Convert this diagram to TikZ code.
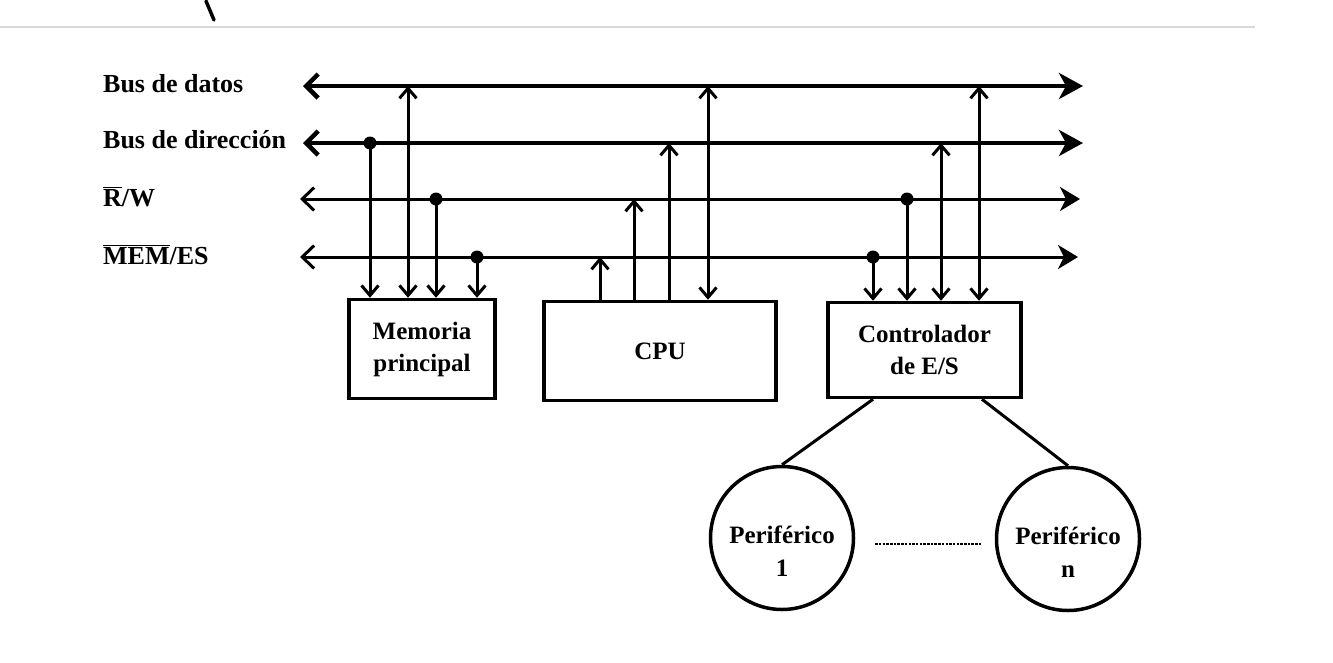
\documentclass[tikz,border=0pt]{standalone}
\usepackage{fontspec}
\setmainfont{Liberation Serif}
\usetikzlibrary{arrows.meta}
\begin{document}
\begin{tikzpicture}[x=1pt,y=-1pt,
  lbl/.style={font=\bfseries\fontsize{26}{30}\selectfont, anchor=base west, inner sep=0pt},
  box/.style={draw, line width=3.5pt, align=center, inner sep=0pt,
              font=\bfseries\fontsize{25}{32}\selectfont},
  per/.style={draw, circle, line width=3.5pt, minimum size=143pt, inner sep=0pt},
  ptxt/.style={align=center, inner sep=0pt, font=\bfseries\fontsize{25}{33}\selectfont},
  busA/.style={line width=4.5pt, {Straight Barb[length=12pt,width=24pt]}-{Stealth[length=24pt,width=26pt,inset=7pt]}},
  busB/.style={line width=3pt, {Straight Barb[length=12pt,width=23pt]}-{Stealth[length=20pt,width=24pt,inset=6pt]}},
  con/.style={line width=3pt},
  dn/.style={con, -{Straight Barb[length=10pt,width=17pt]}},
  upa/.style={con, -{Straight Barb[length=10pt,width=17pt]}},
  bid/.style={con, {Straight Barb[length=10pt,width=17pt]}-{Straight Barb[length=10pt,width=17pt]}},
  jdot/.style={circle, fill, inner sep=0pt, minimum size=13pt}
]
\useasboundingbox (0,0) rectangle (1333,662);

% scan artefacts
\draw[gray!30, line width=1.5pt] (0,27) -- (1255,27);
\draw[line width=3.5pt, line cap=round] (206,1) -- (214,20);

% bus labels
\node[lbl] (lD) at (103,92) {Bus de datos};
\node[lbl] (lA) at (103,148) {Bus de dirección};
\node[lbl] (lR) at (103,206) {$\overline{\mbox{R}}$/W};
\node[lbl] (lM) at (103,264) {$\overline{\mbox{MEM}}$/ES};

% bus endpoints
\coordinate (dL) at (303,86);  \coordinate (dR) at (1083,86);
\coordinate (aL) at (303,143); \coordinate (aR) at (1083,143);
\coordinate (rL) at (300,199); \coordinate (rR) at (1080,199);
\coordinate (mL) at (300,257); \coordinate (mR) at (1078,257);

\draw[busA] (dL) -- (dR);
\draw[busA] (aL) -- (aR);
\draw[busB] (rL) -- (rR);
\draw[busB] (mL) -- (mR);

% boxes
\node[box, minimum width=146pt, minimum height=99pt] (mem) at (422,349) {Memoria\\principal};
\node[box, minimum width=232pt, minimum height=99pt] (cpu) at (660,351) {CPU};
\node[box, minimum width=193pt, minimum height=95pt] (ctl) at (924.5,350) {Controlador\\de E/S};

% memory connections
\coordinate (m1) at (370,143);
\coordinate (m2) at (408,86);
\coordinate (m3) at (436,199);
\coordinate (m4) at (477,257);
\draw[dn] (m1) -- (m1 |- mem.north);
\draw[bid] (m2) -- (m2 |- mem.north);
\draw[dn] (m3) -- (m3 |- mem.north);
\draw[dn] (m4) -- (m4 |- mem.north);
\node[jdot] at (m1) {};
\node[jdot] at (m3) {};
\node[jdot] at (m4) {};

% CPU connections
\coordinate (c1) at (600,257);
\coordinate (c2) at (634,199);
\coordinate (c3) at (669,143);
\coordinate (c4) at (708,86);
\draw[upa] (c1 |- cpu.north) -- (c1);
\draw[upa] (c2 |- cpu.north) -- (c2);
\draw[upa] (c3 |- cpu.north) -- (c3);
\draw[bid] (c4) -- (c4 |- cpu.north);

% controller connections
\coordinate (k1) at (873,257);
\coordinate (k2) at (907,199);
\coordinate (k3) at (941,143);
\coordinate (k4) at (979,86);
\draw[dn] (k1) -- (k1 |- ctl.north);
\draw[dn] (k2) -- (k2 |- ctl.north);
\draw[bid] (k3) -- (k3 |- ctl.north);
\draw[bid] (k4) -- (k4 |- ctl.north);
\node[jdot] at (k1) {};
\node[jdot] at (k2) {};

% peripherals
\node[per] (p1) at (782,538) {};
\node[per] (pn) at (1068,539) {};
\node[ptxt] (t1) at ([yshift=-13pt]p1.center) {Periférico\\1};
\node[ptxt] (tn) at ([yshift=-13pt]pn.center) {Periférico\\n};

\coordinate (s1) at (873,0);
\coordinate (s2) at (982,0);
\draw[con] (s1 |- ctl.south) -- (p1.north);
\draw[con] (s2 |- ctl.south) -- (pn.north);
\draw[line width=1.8pt, dash pattern=on 2.5pt off 1.2pt]
  ([xshift=20pt,yshift=-6pt]p1.east) -- ([xshift=-13pt,yshift=-5pt]pn.west);
\end{tikzpicture}
\end{document}
